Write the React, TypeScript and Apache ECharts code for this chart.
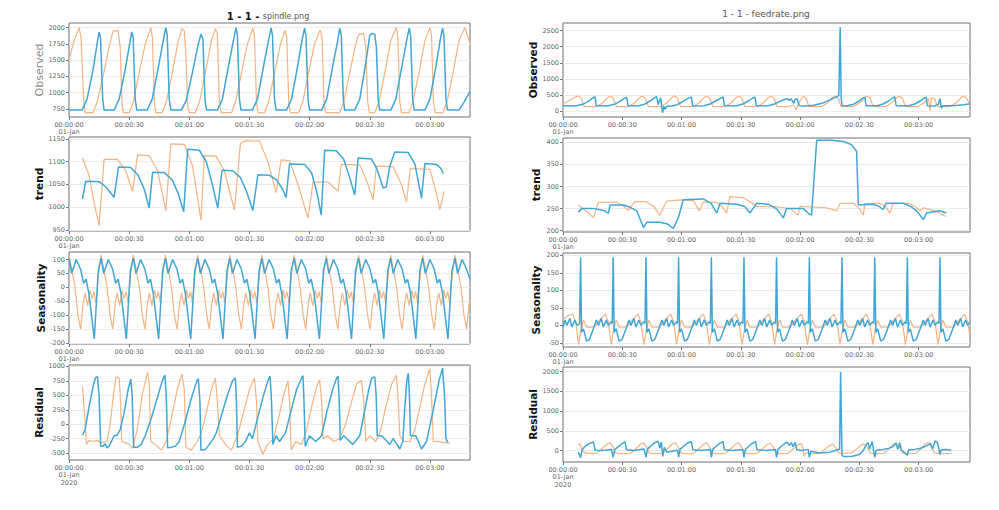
import React, { useEffect, useRef } from "react";
import * as echarts from "echarts";

// ---------- tick labels ----------
const X_TICKS = [0, 30, 60, 90, 120, 150, 180];
const SP_OBS_TICKS = [750, 1000, 1250, 1500, 1750, 2000];
const SP_TREND_TICKS = [950, 1000, 1050, 1100, 1150];
const SP_SEAS_TICKS = [-200, -150, -100, -50, 0, 50, 100];
const SP_RESID_TICKS = [-500, -250, 0, 250, 500, 750, 1000];
const FR_OBS_TICKS = [0, 500, 1000, 1500, 2000, 2500];
const FR_TREND_TICKS = [200, 250, 300, 350, 400];
const FR_SEAS_TICKS = [-50, 0, 50, 100, 150, 200];
const FR_RESID_TICKS = [0, 500, 1000, 1500, 2000];

// ---------- spindle (left) : [seconds, value] ----------
const spObsBlue = [
  [0,730],[6.5,730],[9,900],[12,1350],[14,1750],[15,1930],[15.7,1850],[16.8,900],[17.5,730],
  [22.5,730],[25,900],[28,1350],[30.3,1760],[31.3,1935],[32,1850],[33,900],[33.8,730],
  [39,730],[41.5,900],[44.5,1380],[47,1800],[48.3,2000],[49,1880],[50,900],[50.8,730],
  [56,730],[58.5,880],[61.5,1300],[64.5,1750],[65.8,1900],[66.8,1820],[67.8,900],[68.6,730],
  [74,730],[76.5,900],[79.5,1400],[82,1800],[83.3,2000],[84,1880],[85,900],[85.8,730],
  [91.5,730],[94,900],[97,1400],[99.5,1800],[100.8,1995],[101.5,1880],[102.5,900],[103.3,730],
  [108.5,730],[111,900],[114,1400],[116.3,1820],[117.5,1990],[118.2,1880],[119.2,900],[120,730],
  [126,730],[128.5,900],[131.5,1400],[134,1800],[135,1990],[135.8,1880],[136.8,900],[137.5,730],
  [142.5,730],[145,900],[148,1450],[150,1880],[151,1910],[152.5,1900],[153.3,1700],[154.2,900],[155,730],
  [160.5,730],[163,900],[166,1400],[168.5,1820],[169.7,1990],[170.4,1880],[171.4,900],[172.2,730],
  [177.5,730],[180,900],[183,1400],[185.2,1820],[186.3,1990],[187,1880],[188,900],[188.8,730],
  [194.5,730],[197,850],[200,1020]
];
const spObsOrange = [
  [0,1500],[2.5,1800],[5,2000],[6,1850],[7.3,900],[8,690],
  [12,690],[14,850],[17,1250],[20,1700],[22,1950],[24.5,1950],[25.5,1700],[26.5,800],[27.2,690],
  [30,690],[32,850],[35,1300],[38,1750],[40.8,2000],[41.6,1850],[42.6,850],[43.3,690],
  [46.5,690],[48.5,850],[51.5,1300],[54.5,1800],[56.3,1985],[57.5,1950],[58.3,1600],[59.2,800],[60,690],
  [63,690],[65,850],[68,1300],[71,1800],[73,1985],[74,1900],[75,850],[75.8,690],
  [81,690],[83,850],[86,1300],[89,1750],[91.7,1990],[92.5,1880],[93.5,850],[94.3,690],
  [97.5,690],[99.5,850],[102.5,1300],[105.5,1750],[107.8,1960],[108.6,1850],[109.6,850],[110.4,690],
  [114.5,690],[116.5,850],[119.5,1300],[122.5,1750],[125.3,1965],[126.2,1850],[127.2,850],[128,690],
  [135,690],[137,850],[140,1300],[143,1750],[144.5,1900],[147,1905],[148,1700],[149,850],[149.8,690],
  [152.5,690],[154.5,850],[157.5,1300],[160.5,1800],[163.3,2000],[164,1880],[165,850],[165.8,690],
  [169.5,690],[171.5,850],[174.5,1300],[177.5,1800],[180,2000],[180.8,1880],[181.8,850],[182.6,690],
  [186.5,690],[188.5,850],[191.5,1300],[194.5,1800],[197.5,2000],[198.5,1900],[200,1750]
];
const spTrendBlue = [
  [6.7,1018],[8.3,1057],[15,1056],[18.3,1045],[21,1030],[22.5,1022],[24.7,1088],[30.8,1087],[34.5,1070],[37.5,1040],[40,998],
  [41.7,1077],[47.5,1076],[51.5,1060],[54.5,1030],[57.2,990],[59.2,1127],[65,1125],[68.5,1100],[71.5,1050],[74.2,998],
  [76.3,1081],[81.7,1080],[85.5,1065],[88.5,1035],[91.7,993],[94.2,1071],[100,1070],[103.5,1060],[106.5,1040],[108.3,1021],
  [110,1095],[117.5,1094],[121,1075],[123.5,1035],[125.8,983],[127.5,1125],[133.3,1124],[137,1105],[140,1065],[142.5,1027],
  [144.2,1108],[150.8,1106],[153.5,1085],[156.7,1042],[158.3,1045],[160,1090],[162.5,1121],[169.2,1120],[172.5,1095],[175.8,1020],
  [177.5,1096],[183.3,1094],[185.5,1085],[186.7,1074]
];
const spTrendOrange = [
  [6.7,1108],[10,1070],[12.5,1010],[15,960],[17.5,1105],[24.2,1105],[28.3,1080],[31.7,1035],[34.2,1115],[40,1113],
  [44.2,1080],[48.3,992],[50.8,1139],[57.5,1138],[61.7,1090],[65.8,972],[67.5,1113],[73.3,1112],[77.5,1080],[82.5,994],
  [85.5,1140],[88.3,1146],[95,1145],[99.2,1100],[103.3,1032],[105.8,1104],[110,1102],[114.2,1050],[119.2,976],[121.7,1055],
  [129.2,1055],[134.2,1035],[135.8,1094],[145,1093],[148.3,1060],[151.7,1017],[153.3,1090],[161.7,1089],[165.8,1050],[168.3,1012],
  [170.3,1085],[180,1083],[183.3,1030],[185,995],[187,1035]
];
const spSeasBlue = [
  [0,105],[1.3,50],[3.6,100],[5.8,65],[7.3,15],[8.5,30],[10,-25],[12.6,-185],[14.6,60],
  [16.0,105],[17.3,50],[19.6,100],[21.8,65],[23.3,15],[24.5,30],[26.0,-25],[28.6,-185],[30.6,60],
  [32.1,105],[33.4,50],[35.7,100],[37.9,65],[39.4,15],[40.6,30],[42.1,-25],[44.7,-185],[46.7,60],
  [48.1,105],[49.4,50],[51.7,100],[53.9,65],[55.4,15],[56.6,30],[58.1,-25],[60.7,-185],[62.7,60],
  [64.2,105],[65.5,50],[67.8,100],[70.0,65],[71.5,15],[72.7,30],[74.2,-25],[76.8,-185],[78.8,60],
  [80.2,105],[81.5,50],[83.8,100],[86.0,65],[87.5,15],[88.7,30],[90.2,-25],[92.8,-185],[94.8,60],
  [96.2,105],[97.5,50],[99.8,100],[102.0,65],[103.5,15],[104.7,30],[106.2,-25],[108.8,-185],[110.8,60],
  [112.3,105],[113.6,50],[115.9,100],[118.1,65],[119.6,15],[120.8,30],[122.3,-25],[124.9,-185],[126.9,60],
  [128.3,105],[129.6,50],[131.9,100],[134.1,65],[135.6,15],[136.8,30],[138.3,-25],[140.9,-185],[142.9,60],
  [144.4,105],[145.7,50],[148.0,100],[150.2,65],[151.7,15],[152.9,30],[154.4,-25],[157.0,-185],[159.0,60],
  [160.4,105],[161.7,50],[164.0,100],[166.2,65],[167.7,15],[168.9,30],[170.4,-25],[173.0,-185],[175.0,60],
  [176.4,105],[177.7,50],[180.0,100],[182.2,65],[183.7,15],[184.9,30],[186.4,-25],[189.0,-185],[191.0,60],
  [192.5,105],[193.8,50],[196.1,100],[198.3,65],[200,30]
];
const spSeasOrange = [
  [0,116],[1.5,60],[3,0],[4.5,-100],[5.8,-150],[7,-60],[8,-20],[9.3,-65],[10.5,-10],[11.5,-40],[12.5,-15],[13.5,-55],[14.8,50],
  [16.0,116],[17.5,60],[19.0,0],[20.5,-100],[21.8,-150],[23.0,-60],[24.0,-20],[25.3,-65],[26.5,-10],[27.5,-40],[28.5,-15],[29.5,-55],[30.8,50],
  [32.1,116],[33.6,60],[35.1,0],[36.6,-100],[37.9,-150],[39.1,-60],[40.1,-20],[41.4,-65],[42.6,-10],[43.6,-40],[44.6,-15],[45.6,-55],[46.9,50],
  [48.1,116],[49.6,60],[51.1,0],[52.6,-100],[53.9,-150],[55.1,-60],[56.1,-20],[57.4,-65],[58.6,-10],[59.6,-40],[60.6,-15],[61.6,-55],[62.9,50],
  [64.2,116],[65.7,60],[67.2,0],[68.7,-100],[70.0,-150],[71.2,-60],[72.2,-20],[73.5,-65],[74.7,-10],[75.7,-40],[76.7,-15],[77.7,-55],[79.0,50],
  [80.2,116],[81.7,60],[83.2,0],[84.7,-100],[86.0,-150],[87.2,-60],[88.2,-20],[89.5,-65],[90.7,-10],[91.7,-40],[92.7,-15],[93.7,-55],[95.0,50],
  [96.2,116],[97.7,60],[99.2,0],[100.7,-100],[102.0,-150],[103.2,-60],[104.2,-20],[105.5,-65],[106.7,-10],[107.7,-40],[108.7,-15],[109.7,-55],[111.0,50],
  [112.3,116],[113.8,60],[115.3,0],[116.8,-100],[118.1,-150],[119.3,-60],[120.3,-20],[121.6,-65],[122.8,-10],[123.8,-40],[124.8,-15],[125.8,-55],[127.1,50],
  [128.3,116],[129.8,60],[131.3,0],[132.8,-100],[134.1,-150],[135.3,-60],[136.3,-20],[137.6,-65],[138.8,-10],[139.8,-40],[140.8,-15],[141.8,-55],[143.1,50],
  [144.4,116],[145.9,60],[147.4,0],[148.9,-100],[150.2,-150],[151.4,-60],[152.4,-20],[153.7,-65],[154.9,-10],[155.9,-40],[156.9,-15],[157.9,-55],[159.2,50],
  [160.4,116],[161.9,60],[163.4,0],[164.9,-100],[166.2,-150],[167.4,-60],[168.4,-20],[169.7,-65],[170.9,-10],[171.9,-40],[172.9,-15],[173.9,-55],[175.2,50],
  [176.4,116],[177.9,60],[179.4,0],[180.9,-100],[182.2,-150],[183.4,-60],[184.4,-20],[185.7,-65],[186.9,-10],[187.9,-40],[188.9,-15],[189.9,-55],[191.2,50],
  [192.5,116],[194.0,60],[195.5,0],[197.0,-100],[198.3,-150],[199.5,-60],[200,-40]
];
const spResidBlue = [
  [6.7,-190],[8,-100],[10,300],[12,650],[13.3,810],[14.2,820],[15,500],[15.8,-380],[17,-380],[18,-340],[19,-410],[20,-380],
  [22.5,-200],[24,-190],[25.5,-100],[27.5,200],[29.5,600],[30.8,780],[31.5,500],[32.2,-400],[34,-400],[36,-350],[38,-200],
  [41,100],[44,450],[46.5,750],[47.8,850],[48.5,500],[49.2,-410],[51,-400],[53,-380],[55,-300],[58,50],[61,450],[63.5,720],
  [64.5,790],[65.3,400],[65.8,-450],[68,-440],[70,-350],[72,-250],[73.5,-150],[76,150],[79,500],[81.5,750],[83,800],[83.5,400],
  [84,-400],[86,-380],[88,-300],[90,-150],[91.5,-250],[94,100],[97,500],[99.5,780],[100.3,830],[101,400],[101.7,-350],
  [103.3,-200],[105,-300],[108,-150],[110.5,200],[113.5,600],[116,800],[116.7,840],[117.2,400],[117.8,-380],[120,-200],
  [123,-300],[126,-200],[128.5,200],[131.5,600],[133.5,800],[134.2,830],[134.8,400],[135.3,-280],[137,-200],[141.5,-350],
  [145,-200],[147,150],[149.5,600],[151,800],[152.5,820],[153.2,500],[153.7,-200],[156,-200],[160,-350],[161.7,-250],
  [165,-430],[166.5,-300],[167.5,300],[168.5,750],[169.2,880],[169.8,500],[170.3,-200],[173,-200],[175.8,-430],[178.3,-300],
  [182,300],[184.5,750],[186.3,970],[187.3,500],[188,-250],[189,-320]
];
const spResidOrange = [
  [6.7,650],[7.5,300],[8.7,-350],[10,-280],[12,-300],[14,-280],[16,-320],[19,-300],[20.5,0],[22.5,600],[23.5,820],[25,800],
  [25.7,400],[26.3,-300],[28,-320],[30,-350],[31.7,-420],[34,-100],[36.5,500],[39.2,900],[40,700],[40.8,-300],[43,-350],
  [46,-450],[48.5,-300],[51,100],[54,600],[56.3,870],[57.5,600],[58.3,-400],[61,-450],[64,-300],[66,-150],[68.5,200],[71,600],
  [73,800],[74,400],[75,-200],[78,-350],[81,-450],[84,-200],[87,200],[90,600],[92.5,800],[93.5,400],[94.2,-300],[96.7,-520],
  [99,-350],[102,-250],[104.5,100],[107,500],[109.2,750],[110,400],[110.8,-450],[113,-300],[116,-350],[118.5,-100],[121,300],
  [123.5,650],[125,770],[126,400],[126.7,-250],[129,-200],[132,-300],[135,-250],[138,0],[141,400],[143.5,700],[145.8,760],
  [147,400],[148,-300],[150,-200],[153,-300],[155.5,-100],[158,300],[161,700],[163.3,850],[164.2,400],[165,-200],[167,-300],
  [170,-300],[172.5,-100],[175,300],[177.5,700],[180,960],[180.8,500],[181.7,-300],[184,-300],[187,-320],[190,-330]
];

// ---------- feedrate (right) : [seconds, value] ----------
const frObsBlue = [
  [0,175],[7,175],[10,220],[13,320],[15.2,420],[16.2,455],[16.8,175],
  [23,175],[26,220],[29,320],[31.3,410],[32.3,435],[32.9,175],
  [38.5,175],[41.5,230],[44.5,340],[46.8,440],[47.4,455],[48.2,210],[49.4,420],[50,150],[50.4,-40],[51.1,160],[51.8,60],[52.5,160],[55,165],
  [57.5,200],[60.5,300],[63.5,410],[65,440],[65.6,170],
  [71.5,175],[74.5,230],[77.5,330],[80,420],[81.1,445],[81.7,175],
  [88,175],[91,230],[94,330],[96.2,420],[97.2,440],[97.8,175],
  [104,175],[107,230],[110,320],[112,370],[113.5,390],[114.5,340],[115.5,390],[116.8,250],[117.5,380],[118.5,390],[119.5,175],
  [122,170],[127,190],[131,250],[135,350],[139.6,490],[140.3,2600],[140.8,400],[141.3,180],
  [144,175],[147,220],[150,330],[152,420],[152.8,435],[153.4,175],
  [159,175],[162,230],[165,330],[167.2,430],[168,445],[168.6,175],
  [175,175],[178,230],[181,330],[183,420],[183.8,440],[184.4,175],
  [188,170],[190,220],[190.8,400],[191.5,100],[192.3,175],
  [197,175],[200,190],[203,210],[206,235]
];
const frObsOrange = [
  [0,230],[3,330],[6,440],[7.8,480],[9.3,400],[10.8,150],
  [17,150],[20,260],[22.5,420],[24,480],[25.5,400],[27,150],
  [33.2,150],[36.2,260],[38.7,420],[40.2,480],[41.7,400],[43.2,150],
  [49.5,150],[52.5,260],[55,420],[56.5,485],[58,400],[59.5,150],
  [65.8,150],[68.8,260],[71.3,420],[72.8,480],[74.3,400],[75.8,150],
  [82,150],[85,260],[87.5,420],[89,480],[90.5,400],[92,150],
  [98.3,150],[101.3,260],[103.8,420],[105.3,480],[106.8,400],[108.3,150],
  [114.5,150],[116.5,200],[118,60],[118.6,150],[120,330],[121.5,470],[123,400],[124.5,150],
  [130.8,150],[133.8,260],[136.3,420],[137.8,480],[139.3,400],[140.8,150],
  [147,150],[150,260],[152.5,420],[154,480],[155.5,400],[157,150],
  [163.3,150],[166.3,260],[168.8,420],[170.3,480],[171.8,400],[173.3,150],
  [179.6,150],[182.6,260],[185.1,400],[185.8,20],[186.4,420],[188,400],[189.6,150],
  [195.9,150],[198.9,260],[201.4,420],[202.9,480],[204.4,400],[206,200]
];
const frTrendBlue = [
  [7.8,242],[9.5,250],[16,250],[21,245],[23,239],[23.8,258],[30.5,258],[34,253],[37.3,245],[40.7,207],[42.4,219],[49,219],
  [53,215],[55.8,205],[58.4,230],[60.9,270],[71,272],[75,262],[77.8,240],[79.5,262],[88,260],[92,255],[94.6,240],[98,262],
  [104,260],[108,250],[111.5,229],[113.2,250],[121.6,250],[124,240],[125.8,235],[128.4,405],[136,405],[142,402],[146,395],
  [148.6,380],[149.5,258],[157,260],[160,255],[162,248],[163.5,262],[172,262],[176,255],[179,245],[182.4,225],[184,240],
  [190.8,245],[194,240]
];
const frTrendOrange = [
  [7.8,258],[10,250],[13,240],[15.4,229],[17.9,264],[27,265],[30,258],[33,246],[36.4,266],[42,266],[46,255],[49,235],
  [52.5,267],[60,270],[66,268],[69,245],[71,265],[77.8,264],[80.5,255],[82.8,240],[84.5,277],[91,275],[95,265],[98,255],
  [108,254],[115,250],[119,235],[120,255],[133.4,252],[138.5,245],[140.2,262],[147,262],[150,250],[152,235],[152.8,262],
  [160,262],[163,255],[165.5,240],[167,262],[175,262],[178,255],[180.7,245],[182.4,252],[188,245],[194,232]
];
const frSeasBlue = [
  [0,-5],[1,15],[2,0],[3.5,20],[4.5,-5],[6,15],[7,0],[8.4,5],
  [8.9,195],[9.4,-20],[10.4,-10],[11.9,-45],[13.4,-40],[15.4,-10],[16.9,15],[17.9,0],[19.4,20],[20.4,-5],[21.9,15],[22.9,0],[24.4,10],[24.9,5],
  [25.4,195],[25.9,-20],[26.9,-10],[28.4,-45],[29.9,-40],[31.9,-10],[33.4,15],[34.4,0],[35.9,20],[36.9,-5],[38.4,15],[39.4,0],[40.9,10],[41.5,5],
  [42.0,195],[42.5,-20],[43.5,-10],[45.0,-45],[46.5,-40],[48.5,-10],[50.0,15],[51.0,0],[52.5,20],[53.5,-5],[55.0,15],[56.0,0],[57.5,10],[58.0,5],
  [58.5,195],[59.0,-20],[60.0,-10],[61.5,-45],[63.0,-40],[65.0,-10],[66.5,15],[67.5,0],[69.0,20],[70.0,-5],[71.5,15],[72.5,0],[74.0,10],[74.6,5],
  [75.1,195],[75.6,-20],[76.6,-10],[78.1,-45],[79.6,-40],[81.6,-10],[83.1,15],[84.1,0],[85.6,20],[86.6,-5],[88.1,15],[89.1,0],[90.6,10],[91.1,5],
  [91.6,195],[92.1,-20],[93.1,-10],[94.6,-45],[96.1,-40],[98.1,-10],[99.6,15],[100.6,0],[102.1,20],[103.1,-5],[104.6,15],[105.6,0],[107.1,10],[107.6,5],
  [108.1,195],[108.6,-20],[109.6,-10],[111.1,-45],[112.6,-40],[114.6,-10],[116.1,15],[117.1,0],[118.6,20],[119.6,-5],[121.1,15],[122.1,0],[123.6,10],[124.2,5],
  [124.7,195],[125.2,-20],[126.2,-10],[127.7,-45],[129.2,-40],[131.2,-10],[132.7,15],[133.7,0],[135.2,20],[136.2,-5],[137.7,15],[138.7,0],[140.2,10],[140.7,5],
  [141.2,195],[141.7,-20],[142.7,-10],[144.2,-45],[145.7,-40],[147.7,-10],[149.2,15],[150.2,0],[151.7,20],[152.7,-5],[154.2,15],[155.2,0],[156.7,10],[157.3,5],
  [157.8,195],[158.3,-20],[159.3,-10],[160.8,-45],[162.3,-40],[164.3,-10],[165.8,15],[166.8,0],[168.3,20],[169.3,-5],[170.8,15],[171.8,0],[173.3,10],[173.8,5],
  [174.3,195],[174.8,-20],[175.8,-10],[177.3,-45],[178.8,-40],[180.8,-10],[182.3,15],[183.3,0],[184.8,20],[185.8,-5],[187.3,15],[188.3,0],[189.8,10],[190.3,5],
  [190.8,195],[191.3,-20],[192.3,-10],[193.8,-45],[195.3,-40],[197.3,-10],[198.8,15],[199.8,0],[201.3,20],[202.3,-5],[203.8,15],[204.8,0],[206,10]
];
const frSeasOrange = [
  [0,15],[2.5,28],[4.9,32],[6.4,10],[7.9,-55],
  [9.2,-10],[10.4,15],[11.9,-5],[15.9,-5],[18.4,15],[21.4,32],[22.9,10],[24.4,-55],
  [25.7,-10],[26.9,15],[28.4,-5],[32.4,-5],[34.9,15],[37.9,32],[39.4,10],[41.0,-55],
  [42.3,-10],[43.5,15],[45.0,-5],[49.0,-5],[51.5,15],[54.5,32],[56.0,10],[57.5,-55],
  [58.8,-10],[60.0,15],[61.5,-5],[65.5,-5],[68.0,15],[71.0,32],[72.5,10],[74.1,-55],
  [75.4,-10],[76.6,15],[78.1,-5],[82.1,-5],[84.6,15],[87.6,32],[89.1,10],[90.6,-55],
  [91.9,-10],[93.1,15],[94.6,-5],[98.6,-5],[101.1,15],[104.1,32],[105.6,10],[107.1,-55],
  [108.4,-10],[109.6,15],[111.1,-5],[115.1,-5],[117.6,15],[120.6,32],[122.1,10],[123.7,-55],
  [125.0,-10],[126.2,15],[127.7,-5],[131.7,-5],[134.2,15],[137.2,32],[138.7,10],[140.2,-55],
  [141.5,-10],[142.7,15],[144.2,-5],[148.2,-5],[150.7,15],[153.7,32],[155.2,10],[156.8,-55],
  [158.1,-10],[159.3,15],[160.8,-5],[164.8,-5],[167.3,15],[170.3,32],[171.8,10],[173.3,-55],
  [174.6,-10],[175.8,15],[177.3,-5],[181.3,-5],[183.8,15],[186.8,32],[188.3,10],[189.8,-55],
  [191.1,-10],[192.3,15],[193.8,-5],[197.8,-5],[200.3,15],[203.3,32],[204.8,10],[206,-30]
];
const frResidBlue = [
  [7.8,-40],[8.9,-180],[9.6,20],[11.5,120],[13.5,180],[15.4,220],[16.2,10],[20,0],[24.5,30],[25.4,-170],[26.1,20],[28,100],
  [30,180],[31.4,220],[32.2,20],[36,0],[41,40],[42,-170],[42.7,30],[44.5,120],[46.5,200],[48.2,235],[49,60],[49.8,220],
  [50.5,-150],[51.3,80],[52.5,-40],[55,-20],[58,10],[58.5,-170],[59.2,30],[61,110],[63,190],[65,225],[65.7,20],[70,0],
  [74.5,30],[75.1,-170],[75.8,30],[77.5,110],[79.5,190],[81,225],[81.7,20],[86,0],[91,30],[91.6,-170],[92.3,30],[94,110],
  [96,190],[97.5,225],[98.2,20],[103,0],[107.5,30],[108.1,-170],[108.8,30],[110.5,110],[112.5,190],[113.5,215],[114.5,130],
  [115.5,200],[116.5,100],[117.5,210],[118.3,20],[121,0],[124.1,30],[124.7,-170],[125.4,-20],[130,-60],[135,-40],[138,0],
  [140,40],[140.5,1990],[141.2,-120],[142,-150],[146,-150],[150,-100],[152,0],[153.5,150],[154.5,200],[155.2,30],[156.5,230],
  [157.2,0],[157.8,-170],[158.5,10],[162,30],[165,60],[167,100],[168.5,180],[169.5,30],[170.5,200],[171.2,20],[174.3,-120],
  [175,20],[178,30],[181,60],[184,120],[186,180],[187,40],[188.5,250],[189.5,200],[190.3,20],[190.8,-100],[191.5,20],[194,30],[196.5,10]
];
const frResidOrange = [
  [7.8,180],[9,120],[10.5,-40],[12,-70],[17,-70],[19.5,40],[22.3,160],[23.8,200],[25.3,100],[26.8,-60],
  [29,-80],[34.2,-70],[36.7,40],[39.2,160],[40.7,200],[42.2,100],[43.7,-60],
  [46,-80],[50.2,-70],[52.7,40],[55.2,160],[56.7,205],[58.2,100],[59.7,-60],
  [62,-80],[66.2,-70],[68.7,40],[71.2,160],[72.7,200],[74.2,100],[75.7,-60],
  [78,-80],[82.3,-70],[84.8,40],[87.3,160],[88.8,200],[90.3,100],[91.8,-60],
  [94,-80],[98.3,-70],[100.8,40],[103.3,150],[104.8,190],[106.3,100],[107.8,-60],
  [110,-80],[114,-70],[116.5,40],[119,150],[120.5,180],[121.5,60],[122,-150],[123,-60],
  [126,-80],[130,-70],[132.5,30],[135,130],[136.5,160],[138,80],[139.5,-60],
  [142,-70],[146,-60],[148.5,30],[151,140],[152.5,170],[154,80],[155.5,-60],
  [158,-80],[162.3,-70],[164.8,40],[167.3,170],[168.8,200],[170.3,100],[171.8,-60],
  [174,-80],[178.5,-70],[181,40],[183.5,170],[185,205],[186.5,100],[188,-60],
  [191,-80],[196.7,-70]
];

// ---------- layout / styling ----------
const BLUE = "#3fa6d6";
const ORANGE = "#f5b482";
const FONT = "DejaVu Sans";

const panels = [
  {
    left: 69, width: 401, xMax: 200,
    rows: [
      { top: 23, h: 94, min: 624, max: 2071, ticks: SP_OBS_TICKS, name: "Observed", light: true, blue: spObsBlue, orange: spObsOrange },
      { top: 137, h: 94, min: 948, max: 1154, ticks: SP_TREND_TICKS, name: "trend", blue: spTrendBlue, orange: spTrendOrange },
      { top: 252, h: 92, min: -203, max: 127, ticks: SP_SEAS_TICKS, name: "Seasonality", blue: spSeasBlue, orange: spSeasOrange },
      { top: 365, h: 95, min: -620, max: 1025, ticks: SP_RESID_TICKS, name: "Residual", blue: spResidBlue, orange: spResidOrange, last: true },
    ],
  },
  {
    left: 563, width: 407, xMax: 206,
    rows: [
      { top: 23, h: 94, min: -172, max: 2732, ticks: FR_OBS_TICKS, name: "Observed", blue: frObsBlue, orange: frObsOrange },
      { top: 138, h: 94, min: 197, max: 410, ticks: FR_TREND_TICKS, name: "trend", blue: frTrendBlue, orange: frTrendOrange },
      { top: 253, h: 94, min: -62, max: 207, ticks: FR_SEAS_TICKS, name: "Seasonality", blue: frSeasBlue, orange: frSeasOrange },
      { top: 367, h: 95, min: -290, max: 2120, ticks: FR_RESID_TICKS, name: "Residual", blue: frResidBlue, orange: frResidOrange, last: true },
    ],
  },
];

function pad(n: number) {
  return n < 10 ? "0" + n : "" + n;
}
function fmtTime(v: number, last: boolean) {
  const m = Math.floor(v / 60);
  const s = Math.round(v % 60);
  let t = "00:" + pad(m) + ":" + pad(s);
  if (v === 0) t += "\n01-Jan" + (last ? "\n2020" : "");
  return t;
}

function buildOption() {
  const grid: any[] = [];
  const xAxis: any[] = [];
  const yAxis: any[] = [];
  const series: any[] = [];
  let i = 0;
  panels.forEach((p) => {
    p.rows.forEach((r: any) => {
      grid.push({
        left: p.left, top: r.top, width: p.width, height: r.h,
        show: true, borderColor: "#6f6f6f", borderWidth: 1, backgroundColor: "#ffffff",
      });
      xAxis.push({
        type: "value", gridIndex: i, min: 0, max: p.xMax, position: "bottom",
        axisLine: { show: false, onZero: false },
        axisTick: { show: true, length: 3, lineStyle: { color: "#777" }, customValues: X_TICKS },
        axisLabel: {
          customValues: X_TICKS, fontSize: 6.5, color: "#666", fontFamily: FONT, margin: 4, lineHeight: 7.5,
          formatter: (v: number) => fmtTime(v, !!r.last),
        },
        splitLine: { show: false },
      });
      yAxis.push({
        type: "value", gridIndex: i, min: r.min, max: r.max, position: "left",
        name: r.name, nameLocation: "middle", nameGap: 22, nameRotate: 90,
        nameTextStyle: r.light
          ? { fontSize: 11, color: "#8a8a8a", fontFamily: FONT, fontWeight: "normal" }
          : { fontSize: 10.5, color: "#111", fontFamily: FONT, fontWeight: "bold" },
        axisLine: { show: false, onZero: false },
        axisTick: { show: true, length: 3, lineStyle: { color: "#777" }, customValues: r.ticks },
        axisLabel: {
          customValues: r.ticks, fontSize: 6.5, color: "#666", fontFamily: FONT, margin: 4,
          formatter: (v: number) => String(v),
        },
        splitLine: { show: true, lineStyle: { color: "#ececec", width: 1 } },
      });
      series.push({
        type: "line", xAxisIndex: i, yAxisIndex: i, data: r.orange, showSymbol: false, symbol: "none",
        lineStyle: { color: ORANGE, width: 1.2 }, z: 2, silent: true,
      });
      series.push({
        type: "line", xAxisIndex: i, yAxisIndex: i, data: r.blue, showSymbol: false, symbol: "none",
        lineStyle: { color: BLUE, width: 1.5 }, z: 3, silent: true,
      });
      i++;
    });
  });
  return {
    animation: false,
    backgroundColor: "#ffffff",
    textStyle: { fontFamily: FONT },
    grid, xAxis, yAxis, series,
    graphic: [
      {
        type: "text", x: 268, y: 16,
        style: {
          text: "{b|1 - 1 -} {n|spindle.png}",
          align: "center", verticalAlign: "middle",
          rich: {
            b: { fontSize: 10, fontWeight: "bold", fill: "#111", fontFamily: FONT },
            n: { fontSize: 8, fill: "#555", fontFamily: FONT },
          },
        },
      },
      {
        type: "text", x: 766, y: 14,
        style: {
          text: "1 - 1 - feedrate.png", align: "center", verticalAlign: "middle",
          fontSize: 9, fill: "#555", fontFamily: FONT,
        },
      },
    ],
  };
}

export default function App() {
  const ref = useRef<HTMLDivElement>(null);
  useEffect(() => {
    if (!ref.current) return;
    const chart = echarts.init(ref.current, null, { renderer: "svg" });
    chart.setOption(buildOption() as any);
    return () => chart.dispose();
  }, []);
  return (
    <div
      ref={ref}
      style={{ position: "fixed", left: 0, top: 0, width: 999, height: 510, background: "#fff" }}
    />
  );
}
